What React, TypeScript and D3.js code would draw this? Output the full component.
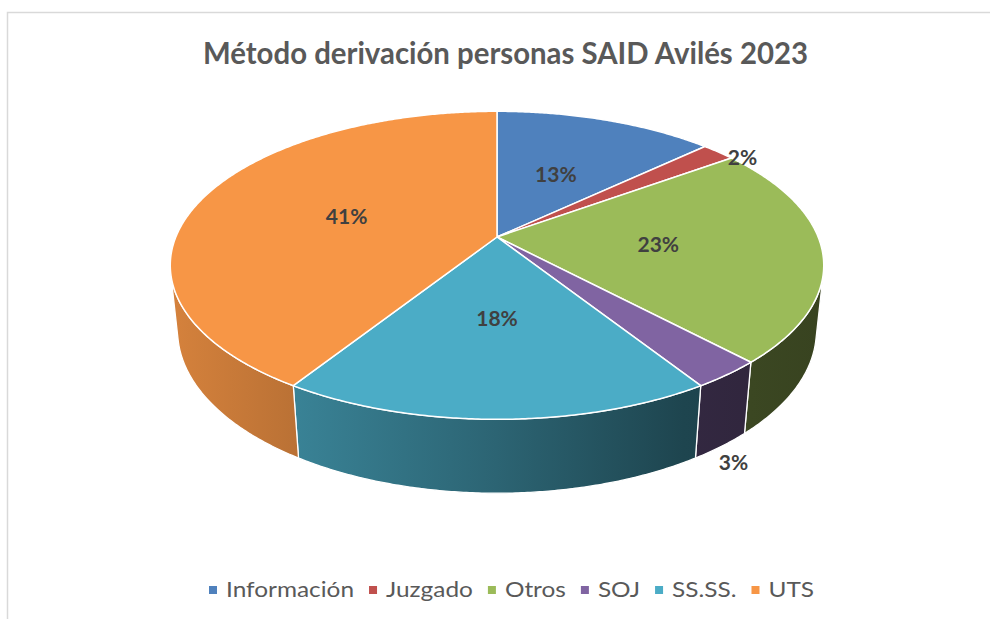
import React, { useRef, useEffect } from 'react';
import * as d3 from 'd3';

// data
const categories = ['Información', 'Juzgado', 'Otros', 'SOJ', 'SS.SS.', 'UTS'];
const values = [13, 2, 23, 3, 18, 41];
const colors = ['#4F81BD', '#C0504D', '#9BBB59', '#8064A2', '#4BACC6', '#F79646'];
const title = 'Método derivación personas SAID Avilés 2023';

const width = 990;
const height = 619;

// 3d view of the pie
const cx = 497;
const cy = 237;
const focal = 1548;
const dist = 4.82;
const tilt = 27.6 * Math.PI / 180;
const thick = 0.232;

// side wall shading along screen x (offset, brightness)
const shade = [[0, 0.86], [0.5, 0.58], [0.79, 0.4], [1, 0.36]];

function project(a: number, r: number, y: number): [number, number] {
    const x = r * Math.sin(a);
    const z = -r * Math.cos(a);
    const c = Math.cos(tilt), s = Math.sin(tilt);
    const v = y * c - z * s;
    const d = dist - (z * c + y * s);
    return [cx + focal * x / d, cy - focal * v / d];
}

function rim(a0: number, a1: number, y: number) {
    const n = Math.max(2, Math.ceil(Math.abs(a1 - a0) / 0.008));
    return d3.range(n + 1).map(i => project(a0 + (a1 - a0) * i / n, 1, y));
}

export default function App() {
    const svgRef = useRef<SVGSVGElement>(null);
    useEffect(() => {
        const svg = d3.select(svgRef.current);
        svg.selectAll('*').remove();

        svg.append('rect')
            .attr('x', 7.5).attr('y', 12.5)
            .attr('width', 1000).attr('height', 700)
            .attr('fill', '#fff')
            .attr('stroke', '#d9d9d9')
            .attr('stroke-width', 1.5);

        const total = d3.sum(values);
        const arcs = d3.pie<number>().sort(null).value(d => d)(values);
        const line = d3.line();

        // gradients for the side walls
        const [xl] = project(-Math.PI / 2, 1, 0);
        const [xr] = project(Math.PI / 2, 1, 0);
        const defs = svg.append('defs');
        colors.forEach((col, i) => {
            const g = defs.append('linearGradient')
                .attr('id', `side${i}`)
                .attr('gradientUnits', 'userSpaceOnUse')
                .attr('x1', xl).attr('x2', xr)
                .attr('y1', 0).attr('y2', 0);
            const base = d3.rgb(col);
            shade.forEach(([o, f]) => {
                g.append('stop')
                    .attr('offset', o)
                    .attr('stop-color', d3.rgb(base.r * f, base.g * f, base.b * f).formatHex());
            });
        });

        // visible part of the outer wall
        const lo = Math.acos(-1 / (dist * Math.cos(tilt)));
        const hi = 2 * Math.PI - lo;
        const sides = svg.append('g');
        arcs.forEach((d, i) => {
            const a0 = Math.max(d.startAngle, lo);
            const a1 = Math.min(d.endAngle, hi);
            if (a1 <= a0) return;
            const pts = rim(a0, a1, 0).concat(rim(a1, a0, -thick));
            sides.append('path')
                .attr('d', line(pts) + 'Z')
                .attr('fill', `url(#side${i})`)
                .attr('stroke', '#fff')
                .attr('stroke-width', 1.3)
                .attr('stroke-linejoin', 'round');
        });

        const tops = svg.append('g');
        arcs.forEach((d, i) => {
            const pts = [project(0, 0, 0) as [number, number]].concat(rim(d.startAngle, d.endAngle, 0));
            tops.append('path')
                .attr('d', line(pts) + 'Z')
                .attr('fill', colors[i])
                .attr('stroke', '#fff')
                .attr('stroke-width', 1.5)
                .attr('stroke-linejoin', 'round');
        });

        // data labels
        svg.append('g')
            .attr('font-family', 'Lato, "Open Sans", sans-serif')
            .attr('font-weight', 'bold')
            .attr('font-size', 21)
            .attr('fill', '#404040')
            .attr('text-anchor', 'middle')
            .selectAll('text')
            .data(arcs)
            .join('text')
            .attr('dy', '0.36em')
            .attr('transform', d => {
                const m = (d.startAngle + d.endAngle) / 2;
                const pct = d.value / total;
                if (pct >= 0.05) return `translate(${project(m, 0.5, 0)})`;
                if (Math.cos(m) < 0) {
                    const [x, y] = project(m, 1, -thick);
                    return `translate(${x + 12},${y + 16})`;
                }
                const [x, y] = project(m, 1, 0);
                return `translate(${x + 24},${y + 5})`;
            })
            .text(d => `${Math.round(d.value / total * 100)}%`);

        // title
        svg.append('text')
            .attr('x', 505.5)
            .attr('y', 64)
            .attr('text-anchor', 'middle')
            .attr('font-family', 'Lato, "Open Sans", sans-serif')
            .attr('font-weight', 'bold')
            .attr('font-size', 31)
            .attr('fill', '#595959')
            .attr('textLength', 605)
            .attr('lengthAdjust', 'spacingAndGlyphs')
            .text(title);

        // legend, stretched to the reference span
        const span = [209, 814];
        const sq = 8, gapIn = 9, gapOut = 15;
        const leg = svg.append('g')
            .attr('font-family', 'Lato, "Open Sans", sans-serif')
            .attr('font-size', 21)
            .attr('fill', '#595959');
        const items = categories.map((c, i) => {
            const t = leg.append('text').attr('y', 597).text(c);
            const w = (t.node() as SVGTextElement).getComputedTextLength();
            return { t, w, i };
        });
        const fixed = items.length * (sq + gapIn) + gapOut * (items.length - 1);
        const stretch = (span[1] - span[0] - fixed) / d3.sum(items, d => d.w);
        let x = span[0];
        items.forEach(({ t, w, i }) => {
            const tw = w * stretch;
            leg.append('rect')
                .attr('x', x).attr('y', 586)
                .attr('width', sq).attr('height', sq)
                .attr('fill', colors[i]);
            t.attr('x', x + sq + gapIn)
                .attr('textLength', tw)
                .attr('lengthAdjust', 'spacingAndGlyphs');
            x += sq + gapIn + tw + gapOut;
        });
    }, []);
    return (
        <svg ref={svgRef} width={width} height={height}
            style={{ position: 'absolute', left: 0, top: 0, background: '#fff' }} />
    );
}
